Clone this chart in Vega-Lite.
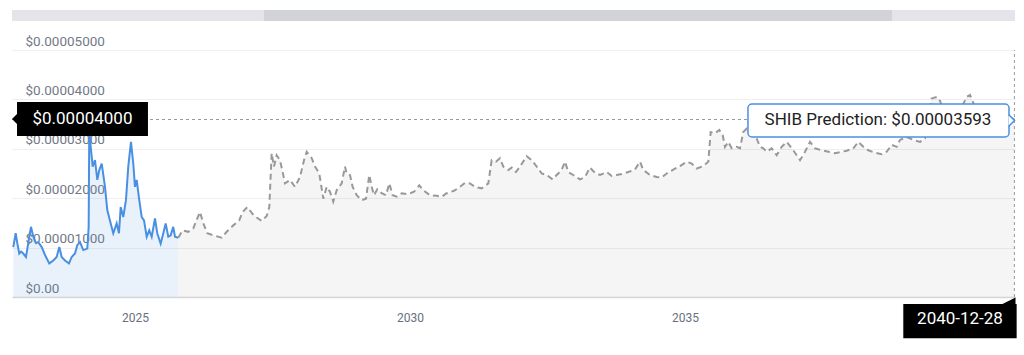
{
  "$schema": "https://vega.github.io/schema/vega-lite/v6.json",
  "width": 1003,
  "height": 247,
  "autosize": {"type": "none"},
  "padding": {"left": 12, "top": 50, "right": 9, "bottom": 58},
  "background": "#ffffff",
  "config": {
    "view": {"stroke": null},
    "font": "Roboto",
    "text": {"font": "Roboto"}
  },
  "datasets": {
    "history": [
      {"year": 2022.787, "price": 0.0000101},
      {"year": 2022.831, "price": 0.0000129},
      {"year": 2022.860, "price": 0.0000109},
      {"year": 2022.896, "price": 0.0000088},
      {"year": 2022.930, "price": 0.0000092},
      {"year": 2022.969, "price": 0.0000088},
      {"year": 2023.018, "price": 0.0000081},
      {"year": 2023.078, "price": 0.0000122},
      {"year": 2023.109, "price": 0.0000142},
      {"year": 2023.151, "price": 0.0000122},
      {"year": 2023.200, "price": 0.0000109},
      {"year": 2023.242, "price": 0.0000111},
      {"year": 2023.304, "price": 0.0000101},
      {"year": 2023.364, "price": 0.0000085},
      {"year": 2023.442, "price": 0.0000068},
      {"year": 2023.515, "price": 0.0000074},
      {"year": 2023.576, "price": 0.0000081},
      {"year": 2023.624, "price": 0.0000101},
      {"year": 2023.667, "price": 0.0000081},
      {"year": 2023.727, "price": 0.0000074},
      {"year": 2023.800, "price": 0.0000068},
      {"year": 2023.849, "price": 0.0000081},
      {"year": 2023.909, "price": 0.0000088},
      {"year": 2023.951, "price": 0.0000105},
      {"year": 2024.000, "price": 0.0000111},
      {"year": 2024.060, "price": 0.0000095},
      {"year": 2024.133, "price": 0.0000098},
      {"year": 2024.158, "price": 0.0000142},
      {"year": 2024.169, "price": 0.0000340},
      {"year": 2024.195, "price": 0.0000304},
      {"year": 2024.231, "price": 0.0000264},
      {"year": 2024.273, "price": 0.0000277},
      {"year": 2024.315, "price": 0.0000237},
      {"year": 2024.351, "price": 0.0000257},
      {"year": 2024.395, "price": 0.0000270},
      {"year": 2024.455, "price": 0.0000223},
      {"year": 2024.496, "price": 0.0000176},
      {"year": 2024.545, "price": 0.0000155},
      {"year": 2024.605, "price": 0.0000129},
      {"year": 2024.667, "price": 0.0000149},
      {"year": 2024.709, "price": 0.0000129},
      {"year": 2024.740, "price": 0.0000182},
      {"year": 2024.787, "price": 0.0000162},
      {"year": 2024.836, "price": 0.0000196},
      {"year": 2024.878, "price": 0.0000264},
      {"year": 2024.927, "price": 0.0000314},
      {"year": 2024.969, "price": 0.0000270},
      {"year": 2025.000, "price": 0.0000223},
      {"year": 2025.031, "price": 0.0000237},
      {"year": 2025.078, "price": 0.0000196},
      {"year": 2025.122, "price": 0.0000162},
      {"year": 2025.164, "price": 0.0000155},
      {"year": 2025.213, "price": 0.0000122},
      {"year": 2025.260, "price": 0.0000135},
      {"year": 2025.304, "price": 0.0000122},
      {"year": 2025.364, "price": 0.0000159},
      {"year": 2025.405, "price": 0.0000129},
      {"year": 2025.467, "price": 0.0000108},
      {"year": 2025.515, "price": 0.0000129},
      {"year": 2025.558, "price": 0.0000149},
      {"year": 2025.605, "price": 0.0000122},
      {"year": 2025.649, "price": 0.0000125},
      {"year": 2025.696, "price": 0.0000142},
      {"year": 2025.727, "price": 0.0000122},
      {"year": 2025.787, "price": 0.0000120}
    ],
    "prediction": [
      {"year": 2025.787, "price": 0.0000120},
      {"year": 2025.867, "price": 0.0000135},
      {"year": 2025.969, "price": 0.0000132},
      {"year": 2026.060, "price": 0.0000139},
      {"year": 2026.133, "price": 0.0000159},
      {"year": 2026.182, "price": 0.0000172},
      {"year": 2026.242, "price": 0.0000149},
      {"year": 2026.315, "price": 0.0000129},
      {"year": 2026.424, "price": 0.0000125},
      {"year": 2026.576, "price": 0.0000120},
      {"year": 2026.667, "price": 0.0000132},
      {"year": 2026.787, "price": 0.0000145},
      {"year": 2026.896, "price": 0.0000155},
      {"year": 2026.958, "price": 0.0000172},
      {"year": 2027.042, "price": 0.0000182},
      {"year": 2027.140, "price": 0.0000168},
      {"year": 2027.213, "price": 0.0000161},
      {"year": 2027.304, "price": 0.0000154},
      {"year": 2027.395, "price": 0.0000164},
      {"year": 2027.442, "price": 0.0000182},
      {"year": 2027.485, "price": 0.0000291},
      {"year": 2027.527, "price": 0.0000264},
      {"year": 2027.576, "price": 0.0000287},
      {"year": 2027.636, "price": 0.0000277},
      {"year": 2027.685, "price": 0.0000253},
      {"year": 2027.727, "price": 0.0000230},
      {"year": 2027.818, "price": 0.0000237},
      {"year": 2027.909, "price": 0.0000223},
      {"year": 2028.000, "price": 0.0000243},
      {"year": 2028.073, "price": 0.0000277},
      {"year": 2028.122, "price": 0.0000294},
      {"year": 2028.213, "price": 0.0000281},
      {"year": 2028.273, "price": 0.0000264},
      {"year": 2028.351, "price": 0.0000250},
      {"year": 2028.424, "price": 0.0000199},
      {"year": 2028.485, "price": 0.0000223},
      {"year": 2028.545, "price": 0.0000213},
      {"year": 2028.605, "price": 0.0000193},
      {"year": 2028.667, "price": 0.0000216},
      {"year": 2028.758, "price": 0.0000230},
      {"year": 2028.818, "price": 0.0000264},
      {"year": 2028.849, "price": 0.0000250},
      {"year": 2028.909, "price": 0.0000247},
      {"year": 2028.958, "price": 0.0000223},
      {"year": 2029.031, "price": 0.0000206},
      {"year": 2029.122, "price": 0.0000196},
      {"year": 2029.200, "price": 0.0000199},
      {"year": 2029.260, "price": 0.0000247},
      {"year": 2029.304, "price": 0.0000223},
      {"year": 2029.345, "price": 0.0000206},
      {"year": 2029.405, "price": 0.0000218},
      {"year": 2029.485, "price": 0.0000210},
      {"year": 2029.564, "price": 0.0000206},
      {"year": 2029.624, "price": 0.0000230},
      {"year": 2029.685, "price": 0.0000206},
      {"year": 2029.758, "price": 0.0000203},
      {"year": 2029.849, "price": 0.0000210},
      {"year": 2029.951, "price": 0.0000208},
      {"year": 2030.073, "price": 0.0000213},
      {"year": 2030.169, "price": 0.0000226},
      {"year": 2030.242, "price": 0.0000216},
      {"year": 2030.364, "price": 0.0000206},
      {"year": 2030.485, "price": 0.0000205},
      {"year": 2030.576, "price": 0.0000203},
      {"year": 2030.667, "price": 0.0000210},
      {"year": 2030.800, "price": 0.0000215},
      {"year": 2030.909, "price": 0.0000223},
      {"year": 2031.000, "price": 0.0000231},
      {"year": 2031.091, "price": 0.0000230},
      {"year": 2031.182, "price": 0.0000223},
      {"year": 2031.304, "price": 0.0000220},
      {"year": 2031.424, "price": 0.0000230},
      {"year": 2031.485, "price": 0.0000277},
      {"year": 2031.564, "price": 0.0000274},
      {"year": 2031.636, "price": 0.0000281},
      {"year": 2031.696, "price": 0.0000264},
      {"year": 2031.787, "price": 0.0000257},
      {"year": 2031.849, "price": 0.0000262},
      {"year": 2031.927, "price": 0.0000253},
      {"year": 2032.000, "price": 0.0000264},
      {"year": 2032.122, "price": 0.0000285},
      {"year": 2032.213, "price": 0.0000277},
      {"year": 2032.304, "price": 0.0000264},
      {"year": 2032.395, "price": 0.0000250},
      {"year": 2032.485, "price": 0.0000247},
      {"year": 2032.595, "price": 0.0000238},
      {"year": 2032.667, "price": 0.0000247},
      {"year": 2032.758, "price": 0.0000257},
      {"year": 2032.818, "price": 0.0000274},
      {"year": 2032.878, "price": 0.0000253},
      {"year": 2032.969, "price": 0.0000247},
      {"year": 2033.091, "price": 0.0000238},
      {"year": 2033.182, "price": 0.0000243},
      {"year": 2033.273, "price": 0.0000262},
      {"year": 2033.364, "price": 0.0000251},
      {"year": 2033.455, "price": 0.0000247},
      {"year": 2033.576, "price": 0.0000253},
      {"year": 2033.667, "price": 0.0000245},
      {"year": 2033.758, "price": 0.0000247},
      {"year": 2033.849, "price": 0.0000249},
      {"year": 2033.969, "price": 0.0000253},
      {"year": 2034.091, "price": 0.0000258},
      {"year": 2034.182, "price": 0.0000274},
      {"year": 2034.242, "price": 0.0000257},
      {"year": 2034.364, "price": 0.0000247},
      {"year": 2034.485, "price": 0.0000243},
      {"year": 2034.576, "price": 0.0000242},
      {"year": 2034.667, "price": 0.0000250},
      {"year": 2034.787, "price": 0.0000258},
      {"year": 2034.909, "price": 0.0000265},
      {"year": 2035.031, "price": 0.0000274},
      {"year": 2035.122, "price": 0.0000270},
      {"year": 2035.213, "price": 0.0000260},
      {"year": 2035.333, "price": 0.0000265},
      {"year": 2035.424, "price": 0.0000274},
      {"year": 2035.467, "price": 0.0000334},
      {"year": 2035.545, "price": 0.0000331},
      {"year": 2035.624, "price": 0.0000338},
      {"year": 2035.685, "price": 0.0000328},
      {"year": 2035.727, "price": 0.0000304},
      {"year": 2035.787, "price": 0.0000314},
      {"year": 2035.849, "price": 0.0000301},
      {"year": 2035.940, "price": 0.0000304},
      {"year": 2036.000, "price": 0.0000301},
      {"year": 2036.060, "price": 0.0000334},
      {"year": 2036.122, "price": 0.0000341},
      {"year": 2036.218, "price": 0.0000335},
      {"year": 2036.303, "price": 0.0000321},
      {"year": 2036.364, "price": 0.0000304},
      {"year": 2036.424, "price": 0.0000301},
      {"year": 2036.485, "price": 0.0000294},
      {"year": 2036.576, "price": 0.0000301},
      {"year": 2036.667, "price": 0.0000287},
      {"year": 2036.758, "price": 0.0000304},
      {"year": 2036.849, "price": 0.0000314},
      {"year": 2036.969, "price": 0.0000297},
      {"year": 2037.091, "price": 0.0000277},
      {"year": 2037.182, "price": 0.0000294},
      {"year": 2037.273, "price": 0.0000314},
      {"year": 2037.364, "price": 0.0000301},
      {"year": 2037.485, "price": 0.0000297},
      {"year": 2037.606, "price": 0.0000294},
      {"year": 2037.727, "price": 0.0000291},
      {"year": 2037.849, "price": 0.0000294},
      {"year": 2037.940, "price": 0.0000296},
      {"year": 2038.060, "price": 0.0000301},
      {"year": 2038.151, "price": 0.0000314},
      {"year": 2038.242, "price": 0.0000304},
      {"year": 2038.333, "price": 0.0000297},
      {"year": 2038.455, "price": 0.0000292},
      {"year": 2038.576, "price": 0.0000289},
      {"year": 2038.667, "price": 0.0000294},
      {"year": 2038.758, "price": 0.0000308},
      {"year": 2038.849, "price": 0.0000304},
      {"year": 2038.909, "price": 0.0000318},
      {"year": 2039.031, "price": 0.0000324},
      {"year": 2039.151, "price": 0.0000318},
      {"year": 2039.273, "price": 0.0000314},
      {"year": 2039.364, "price": 0.0000321},
      {"year": 2039.418, "price": 0.0000355},
      {"year": 2039.485, "price": 0.0000402},
      {"year": 2039.576, "price": 0.0000405},
      {"year": 2039.636, "price": 0.0000397},
      {"year": 2039.727, "price": 0.0000370},
      {"year": 2039.855, "price": 0.0000362},
      {"year": 2039.964, "price": 0.0000375},
      {"year": 2040.055, "price": 0.0000390},
      {"year": 2040.121, "price": 0.0000405},
      {"year": 2040.182, "price": 0.0000409},
      {"year": 2040.273, "price": 0.0000385},
      {"year": 2040.400, "price": 0.0000372},
      {"year": 2040.545, "price": 0.0000380},
      {"year": 2040.691, "price": 0.0000365},
      {"year": 2040.818, "price": 0.0000370},
      {"year": 2040.989, "price": 0.00003593}
    ]
  },
  "encoding": {
    "x": {
      "field": "year",
      "type": "quantitative",
      "scale": {"domain": [2022.764, 2041], "nice": false, "zero": false},
      "axis": {
        "title": null,
        "values": [2025, 2030, 2035],
        "format": "d",
        "grid": false,
        "ticks": false,
        "domain": true,
        "domainColor": "#d6d6d6",
        "domainWidth": 1.5,
        "labelPadding": 15,
        "labelFont": "Roboto",
        "labelFontSize": 12,
        "labelColor": "#66707e"
      }
    },
    "y": {
      "field": "price",
      "type": "quantitative",
      "scale": {"domain": [0, 0.00005], "nice": false, "zero": true},
      "axis": {
        "title": null,
        "values": [0, 0.00001, 0.00002, 0.00003, 0.00004, 0.00005],
        "labelExpr": "datum.value == 0 ? '$0.00' : '$' + format(datum.value, '.8f')",
        "grid": true,
        "gridColor": "#efefef",
        "gridWidth": 1,
        "domain": false,
        "ticks": false,
        "labelAlign": "left",
        "labelBaseline": "bottom",
        "labelPadding": -13,
        "labelOffset": -2,
        "labelFont": "Roboto",
        "labelFontSize": 13.5,
        "labelColor": "#727987"
      }
    }
  },
  "layer": [
    {
      "data": {"values": [
        {"year": 2022.764, "year2": 2041.0, "price": 0.0000581, "price2": 0.00005587, "part": "track"},
        {"year": 2027.345, "year2": 2038.764, "price": 0.0000581, "price2": 0.00005587, "part": "window"}
      ]},
      "mark": {"type": "rect"},
      "encoding": {
        "x2": {"field": "year2"},
        "y2": {"field": "price2"},
        "color": {"field": "part", "type": "nominal", "scale": {"domain": ["track", "window"], "range": ["#e4e4ea", "#d2d3d9"]}, "legend": null}
      }
    },
    {
      "data": {"name": "history"},
      "mark": {"type": "area", "color": "#4a90e2", "opacity": 0.12, "interpolate": "linear"}
    },
    {
      "data": {"name": "prediction"},
      "mark": {"type": "area", "color": "#000000", "opacity": 0.04, "interpolate": "linear"}
    },
    {
      "data": {"name": "history"},
      "mark": {"type": "line", "color": "#4a90e2", "strokeWidth": 2, "interpolate": "linear"}
    },
    {
      "data": {"name": "prediction"},
      "mark": {"type": "line", "color": "#999999", "strokeWidth": 2, "strokeDash": [6, 4], "interpolate": "linear"}
    },
    {
      "data": {"values": [{"year": 2022.764, "year2": 2041.0, "price": 0.00003593}]},
      "mark": {"type": "rule", "color": "#9a9a9a", "strokeWidth": 1, "strokeDash": [3, 3]},
      "encoding": {"x2": {"field": "year2"}}
    },
    {
      "data": {"values": [{"year": 2040.989, "price": 0, "price2": 0.00005}]},
      "mark": {"type": "rule", "color": "#9a9a9a", "strokeWidth": 1, "strokeDash": [3, 3]},
      "encoding": {"y2": {"field": "price2"}}
    },
    {
      "data": {"values": [{"year": 2022.855, "year2": 2025.236, "price": 0.00003947, "price2": 0.00003259}]},
      "mark": {"type": "rect", "color": "#000000"},
      "encoding": {"x2": {"field": "year2"}, "y2": {"field": "price2"}}
    },
    {
      "data": {"values": [{"year": 2022.855, "price": 0.00003603}]},
      "mark": {"type": "point", "shape": "M0,-1L-1,0L0,1Z", "size": 100, "filled": true, "color": "#000000", "opacity": 1}
    },
    {
      "data": {"values": [{"year": 2024.045, "price": 0.00003603, "label": "$0.00004000"}]},
      "mark": {"type": "text", "color": "#ffffff", "font": "Roboto", "fontSize": 17, "align": "center", "baseline": "middle"},
      "encoding": {"text": {"field": "label"}}
    },
    {
      "data": {"values": [{"year": 2036.145, "year2": 2040.891, "price": 0.00003907, "price2": 0.00003239}]},
      "mark": {"type": "rect", "fill": "#ffffff", "stroke": "#4a90e2", "strokeWidth": 1.5, "cornerRadius": 4},
      "encoding": {"x2": {"field": "year2"}, "y2": {"field": "price2"}}
    },
    {
      "data": {"values": [{"year": 2040.882, "price": 0.00003573}]},
      "mark": {"type": "point", "shape": "M0,-1L1,0L0,1", "size": 144, "filled": true, "fill": "#ffffff", "stroke": "#4a90e2", "strokeWidth": 1.5, "opacity": 1}
    },
    {
      "data": {"values": [{"year": 2038.509, "price": 0.00003573, "label": "SHIB Prediction: $0.00003593"}]},
      "mark": {"type": "text", "color": "#222222", "font": "Roboto", "fontSize": 17, "align": "center", "baseline": "middle"},
      "encoding": {"text": {"field": "label"}}
    },
    {
      "data": {"values": [{"year": 2038.969, "year2": 2041.03, "price": -0.00000142, "price2": -0.00000836}]},
      "mark": {"type": "rect", "color": "#000000"},
      "encoding": {"x2": {"field": "year2"}, "y2": {"field": "price2"}}
    },
    {
      "data": {"values": [{"year": 2040.891, "price": -0.0000001}]},
      "mark": {"type": "point", "shape": "M-1,1L1,1L1,0Z", "size": 169, "filled": true, "color": "#000000", "opacity": 1}
    },
    {
      "data": {"values": [{"year": 2040.0, "price": -0.00000445, "label": "2040-12-28"}]},
      "mark": {"type": "text", "color": "#ffffff", "font": "Roboto", "fontSize": 17, "align": "center", "baseline": "middle"},
      "encoding": {"text": {"field": "label"}}
    }
  ]
}
